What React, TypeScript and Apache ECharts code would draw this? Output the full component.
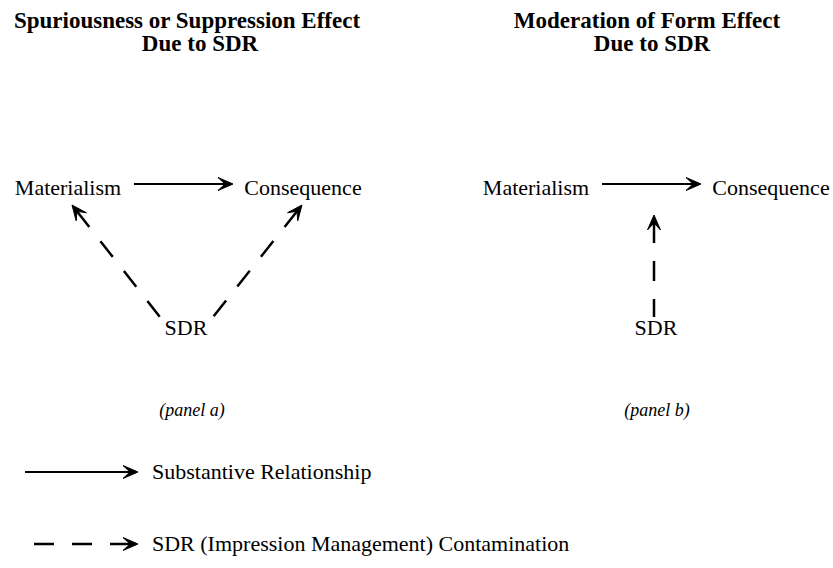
import React, { useEffect, useRef } from "react";
import * as echarts from "echarts";

// ---- Diagram content ----
const titleLines = [
  "Spuriousness or Suppression Effect",
  "Due to SDR",
  "Moderation of Form Effect",
  "Due to SDR",
];
const titleAnchors = [
  [187, 20.5],
  [200, 43.5],
  [647, 20.5],
  [652, 43.5],
];

const nodeNames = ["Materialism", "Consequence", "SDR", "Materialism", "Consequence", "SDR"];
const nodeAnchors = [
  [68, 187],
  [303, 187],
  [186, 327],
  [536, 187],
  [771, 187],
  [656, 327],
];

const panelLabels = ["(panel a)", "(panel b)"];
const panelAnchors = [
  [192, 410],
  [657, 410],
];

const legendLabels = ["Substantive Relationship", "SDR (Impression Management) Contamination"];
const legendAnchors = [
  [152, 471],
  [152, 543],
];

// arrows: [fromX, fromY, toX, toY]; kinds: 0 = substantive (solid), 1 = SDR contamination (dashed)
const arrowSegments = [
  [134, 184, 233, 184],
  [160, 317, 72, 205],
  [213, 317, 302, 205],
  [602, 184, 701, 184],
  [654, 317, 654, 215],
  [25, 472, 138, 472],
  [27, 544, 138, 544],
];
const arrowKinds = [0, 1, 1, 0, 1, 0, 1];

const FONT = '"Liberation Serif", "Times New Roman", serif';

function textSeries(labels: string[], anchors: number[][], font: string, align: string) {
  return {
    type: "custom",
    coordinateSystem: "cartesian2d",
    silent: true,
    data: anchors.map((a, i) => [a[0], a[1], i]),
    encode: { x: 0, y: 1 },
    renderItem: (params: any, api: any) => {
      const p = api.coord([api.value(0), api.value(1)]);
      return {
        type: "text",
        x: p[0],
        y: p[1],
        style: {
          text: labels[params.dataIndex],
          font,
          fill: "#000",
          align,
          verticalAlign: "middle",
        },
      };
    },
  };
}

export default function App() {
  const ref = useRef<HTMLDivElement>(null);
  useEffect(() => {
    if (!ref.current) return;
    const chart = echarts.init(ref.current, null, { renderer: "svg" });
    const option: any = {
      animation: false,
      backgroundColor: "#fff",
      grid: { left: 0, right: 0, top: 0, bottom: 0 },
      xAxis: { type: "value", min: 0, max: 833, show: false },
      yAxis: { type: "value", min: 0, max: 568, inverse: true, show: false },
      series: [
        textSeries(titleLines, titleAnchors, `bold 23px ${FONT}`, "center"),
        textSeries(nodeNames, nodeAnchors, `22px ${FONT}`, "center"),
        textSeries(panelLabels, panelAnchors, `italic 18px ${FONT}`, "center"),
        textSeries(legendLabels, legendAnchors, `22px ${FONT}`, "left"),
        {
          type: "custom",
          coordinateSystem: "cartesian2d",
          silent: true,
          data: arrowSegments.map((s, i) => [s[0], s[1], s[2], s[3], arrowKinds[i]]),
          encode: { x: [0, 2], y: [1, 3] },
          renderItem: (params: any, api: any) => {
            const p1 = api.coord([api.value(0), api.value(1)]);
            const p2 = api.coord([api.value(2), api.value(3)]);
            const dashed = api.value(4) === 1;
            const dx = p2[0] - p1[0];
            const dy = p2[1] - p1[1];
            const len = Math.hypot(dx, dy);
            const ux = dx / len;
            const uy = dy / len;
            const nx = -uy;
            const ny = ux;
            const L = 15;
            const W = 6.5;
            const N = 8;
            const back = [p2[0] - ux * L, p2[1] - uy * L];
            const notch = [p2[0] - ux * N, p2[1] - uy * N];
            const head = [
              [p2[0], p2[1]],
              [back[0] + nx * W, back[1] + ny * W],
              notch,
              [back[0] - nx * W, back[1] - ny * W],
            ];
            return {
              type: "group",
              children: [
                {
                  type: "line",
                  shape: { x1: notch[0], y1: notch[1], x2: p1[0], y2: p1[1] },
                  style: {
                    stroke: "#000",
                    fill: null,
                    lineWidth: dashed ? 2.5 : 2,
                    lineDash: dashed ? [20, 18] : null,
                  },
                },
                {
                  type: "polygon",
                  shape: { points: head },
                  style: { fill: "#000", stroke: "#000", lineWidth: 1, lineJoin: "miter" },
                },
              ],
            };
          },
        },
      ],
    };
    chart.setOption(option);
    return () => chart.dispose();
  }, []);
  return (
    <div
      ref={ref}
      style={{ position: "absolute", left: 0, top: 0, width: 833, height: 568 }}
    />
  );
}
